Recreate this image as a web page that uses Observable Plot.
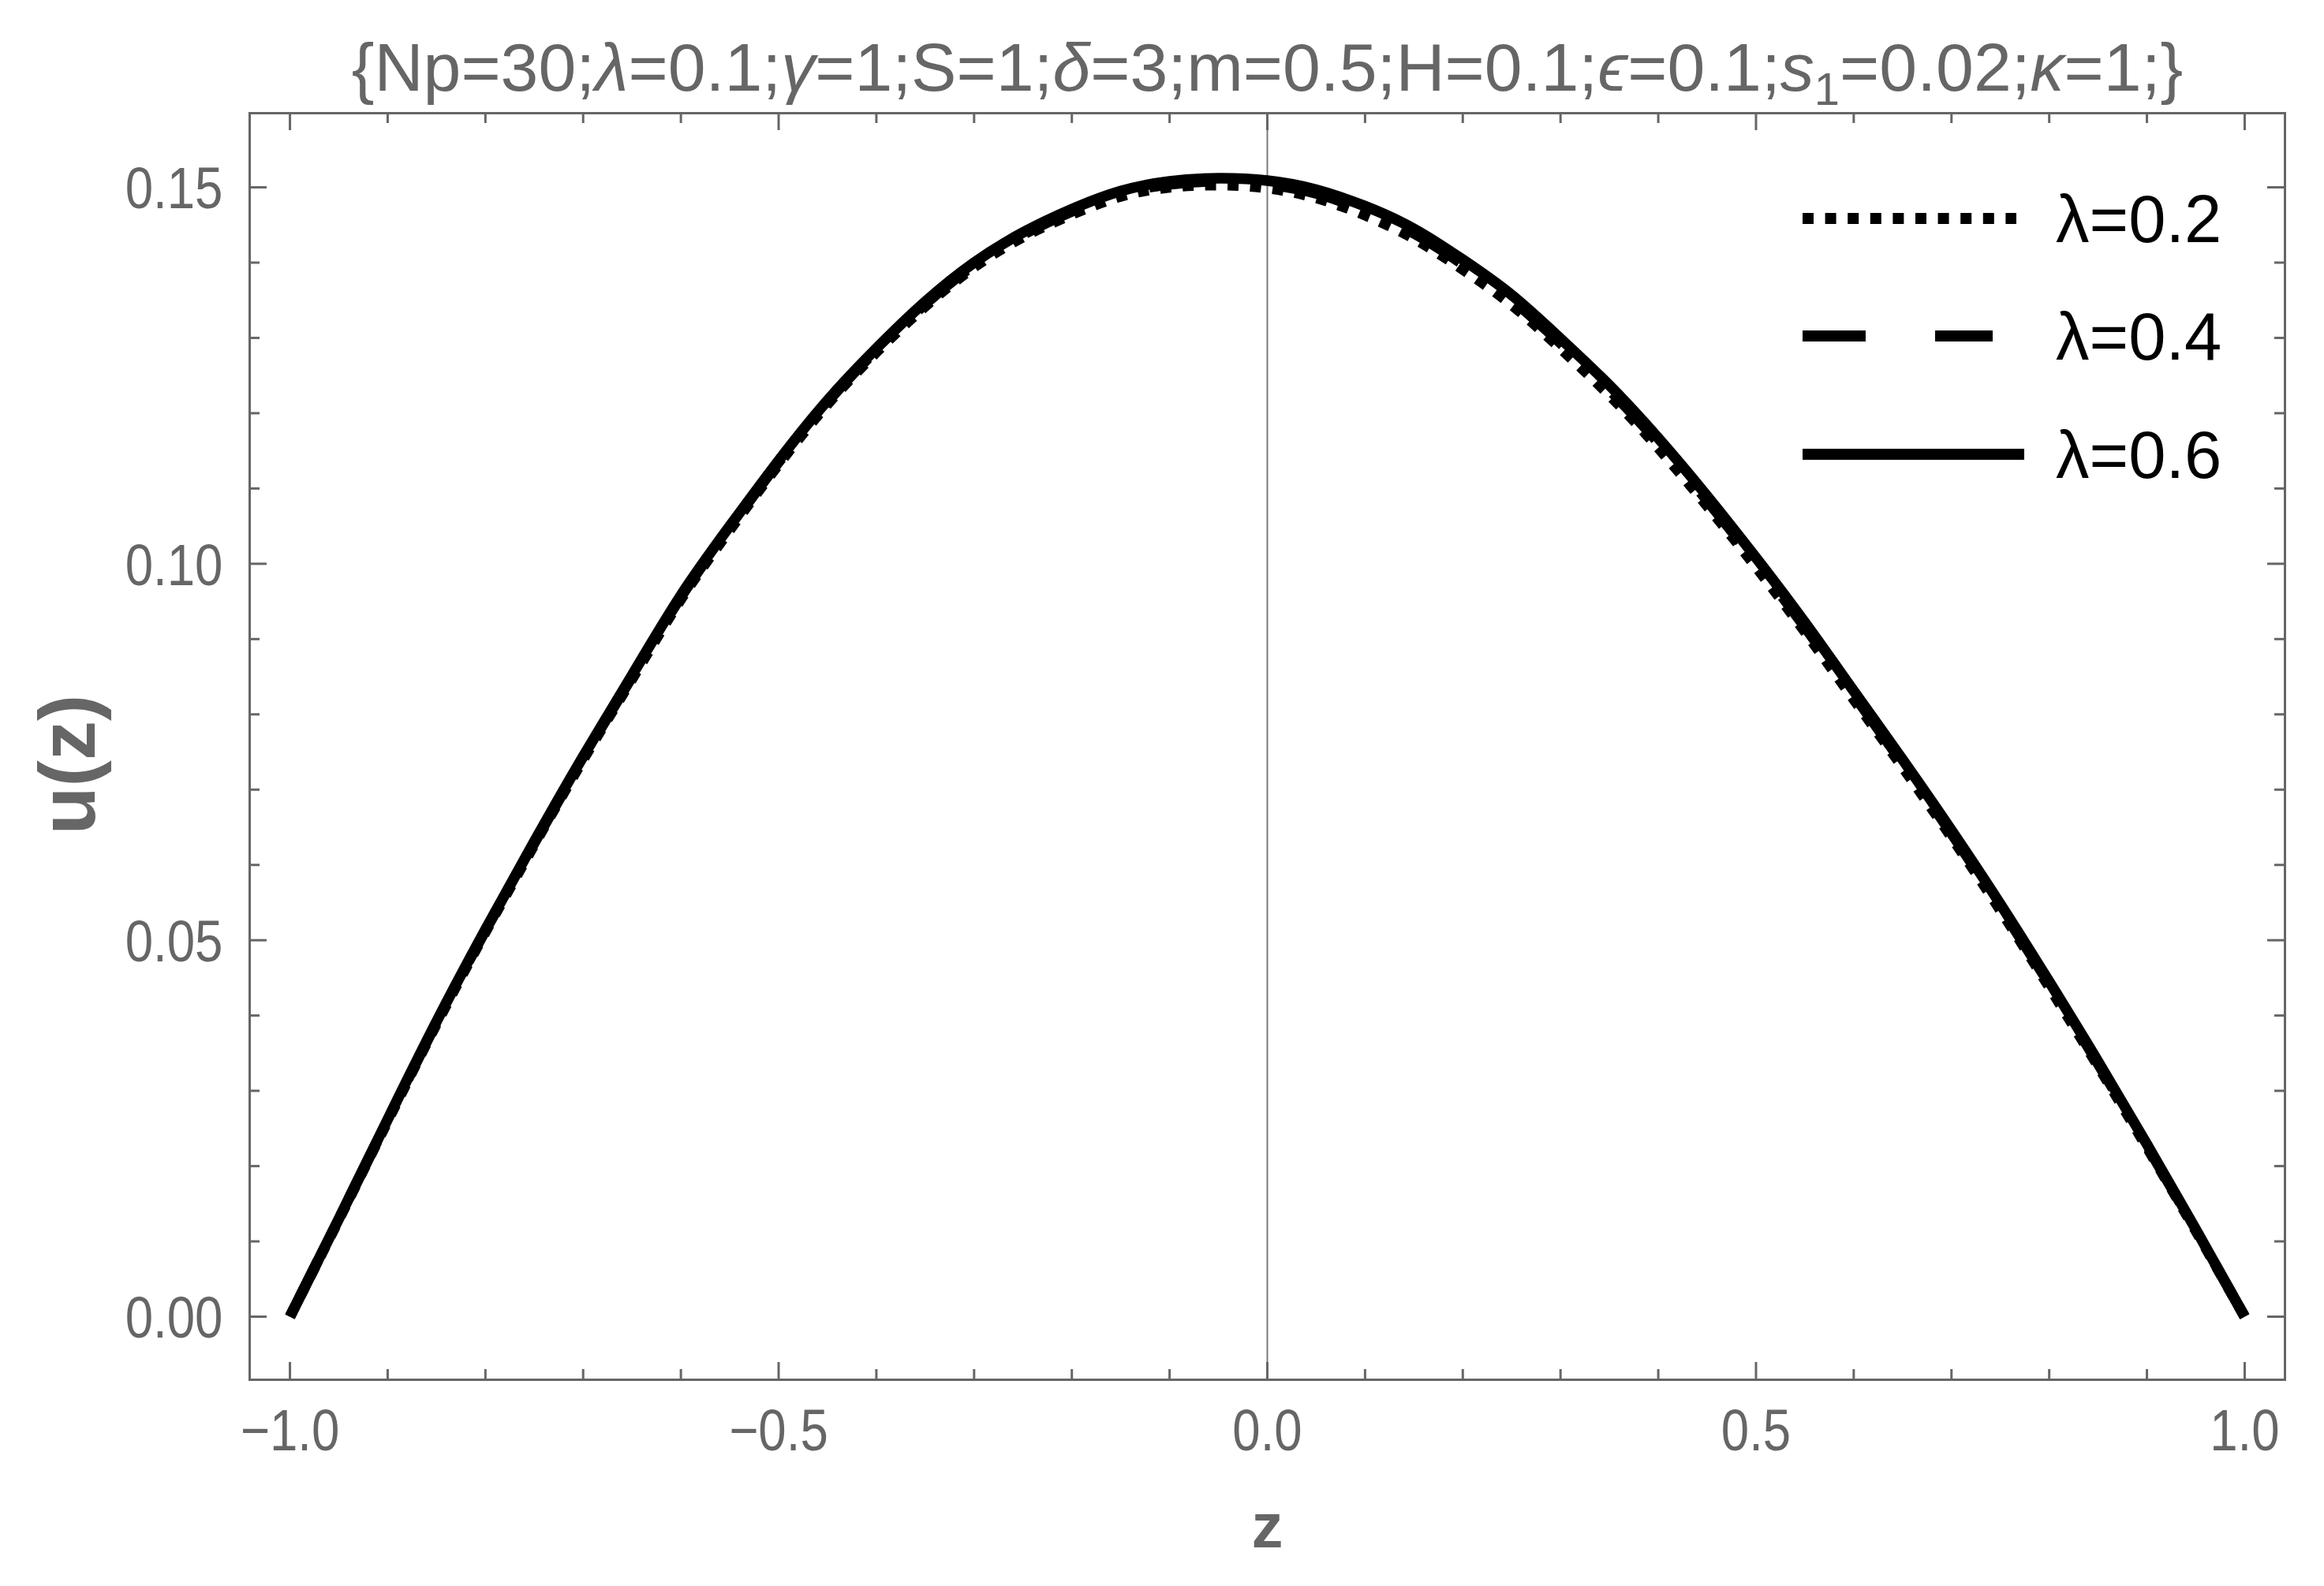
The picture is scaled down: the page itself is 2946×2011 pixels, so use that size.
<!DOCTYPE html>
<html><head><meta charset="utf-8">
<script src="https://cdn.jsdelivr.net/npm/d3@7"></script>
<script src="https://cdn.jsdelivr.net/npm/@observablehq/plot@0.6"></script>
<style>body{margin:0;background:#fff}#chart{width:2946px;height:2011px}</style>
</head><body><div id="chart"></div>
<script>
// ---- data ----
const zValues = [-1,-0.95,-0.9,-0.85,-0.8,-0.75,-0.7,-0.65,-0.6,-0.55,-0.5,-0.45,-0.4,-0.35,-0.3,-0.25,-0.2,-0.15,-0.1,-0.05,0,0.05,0.1,0.15,0.2,0.25,0.3,0.35,0.4,0.45,0.5,0.55,0.6,0.65,0.7,0.75,0.8,0.85,0.9,0.95,1];
const uLambda02 = [0,0.0129,0.0260,0.0389,0.0511,0.0627,0.0740,0.0847,0.0953,0.1045,0.1132,0.1212,0.1281,0.1342,0.1394,0.1434,0.1464,0.1488,0.1500,0.1503,0.1499,0.1486,0.1463,0.1432,0.1391,0.1344,0.1286,0.1224,0.1154,0.1077,0.0996,0.0910,0.0820,0.0730,0.0637,0.0540,0.0438,0.0333,0.0225,0.0114,0];
const uLambda04 = [0,0.0130,0.0261,0.0391,0.0513,0.0629,0.0742,0.0850,0.0956,0.1048,0.1135,0.1215,0.1284,0.1345,0.1397,0.1437,0.1468,0.1492,0.1504,0.1508,0.1504,0.1492,0.1469,0.1439,0.1398,0.1351,0.1293,0.1231,0.1161,0.1084,0.1002,0.0916,0.0826,0.0735,0.0642,0.0544,0.0442,0.0336,0.0227,0.0115,0];
const uLambda06 = [0,0.0130,0.0262,0.0392,0.0514,0.0631,0.0744,0.0852,0.0958,0.1050,0.1137,0.1217,0.1286,0.1348,0.1400,0.1440,0.1471,0.1495,0.1508,0.1512,0.1509,0.1497,0.1475,0.1445,0.1404,0.1357,0.1299,0.1237,0.1167,0.1090,0.1008,0.0922,0.0831,0.0740,0.0646,0.0548,0.0445,0.0339,0.0229,0.0116,0];
const seriesLabels = ["λ=0.2","λ=0.4","λ=0.6"];
const xMajorTicks = [-1,-0.5,0,0.5,1];
const xTickLabels = ["\u22121.0","\u22120.5","0.0","0.5","1.0"];
const xMinorTicks = [-0.9,-0.8,-0.7,-0.6,-0.4,-0.3,-0.2,-0.1,0.1,0.2,0.3,0.4,0.6,0.7,0.8,0.9];
const yMajorTicks = [0,0.05,0.1,0.15];
const yTickLabels = ["0.00","0.05","0.10","0.15"];
const yMinorTicks = [0.01,0.02,0.03,0.04,0.06,0.07,0.08,0.09,0.11,0.12,0.13,0.14];
const titleParts = [["{Np=30;",0],["λ",1],["=0.1;",0],["γ",1],["=1;S=1;",0],["δ",1],["=3;m=0.5;H=0.1;",0],["ϵ",1],["=0.1;",0],["s",1],["1",2],["=0.02;",0],["κ",1],["=1;}",0]];
const xLabel = "z";
const yLabel = "u(z)";

// ---- layout ----
const W = 2946, H = 2011, mL = 316, mR = 50, mT = 143, mB = 262;
const innerW = W - mL - mR, innerH = H - mT - mB;
const gray = "#666666";
const font = "'Liberation Sans', Arial, Helvetica, sans-serif";
const major = 22, minor = 13;

const series = [
  {label: seriesLabels[0], values: uLambda02, dash: "14,14.6"},
  {label: seriesLabels[1], values: uLambda04, dash: "80,88"},
  {label: seriesLabels[2], values: uLambda06, dash: null}
];
const rows = series.flatMap(s => zValues.map((z, i) => ({z, u: s.values[i], label: s.label})));
const titleText = titleParts.map(p => p[0]).join("");

const tickStyle = {stroke: gray, strokeWidth: 3};
const chart = Plot.plot({
  width: W, height: H,
  marginLeft: mL, marginRight: mR, marginTop: mT, marginBottom: mB,
  style: {fontFamily: font, background: "white"},
  x: {domain: [-1.0412, 1.0412], axis: null},
  y: {domain: [-0.00838, 0.15985], axis: null},
  marks: [
    Plot.ruleX([0], {x: d => d, stroke: "#7a7a7a", strokeWidth: 2}),
    ...series.map(s => Plot.line(rows.filter(r => r.label === s.label), {
      x: "z", y: "u", stroke: "black", strokeWidth: 13.5,
      strokeDasharray: s.dash || undefined, strokeLinecap: "butt", strokeLinejoin: "round",
      curve: "natural"
    })),
    Plot.frame({stroke: gray, strokeWidth: 3}),
    // bottom / top ticks
    Plot.tickX(xMajorTicks, {x: d => d, ...tickStyle, insetTop: innerH - major}),
    Plot.tickX(xMinorTicks, {x: d => d, ...tickStyle, insetTop: innerH - minor}),
    Plot.tickX(xMajorTicks, {x: d => d, ...tickStyle, insetBottom: innerH - major}),
    Plot.tickX(xMinorTicks, {x: d => d, ...tickStyle, insetBottom: innerH - minor}),
    // left / right ticks
    Plot.tickY(yMajorTicks, {y: d => d, ...tickStyle, insetRight: innerW - major}),
    Plot.tickY(yMinorTicks, {y: d => d, ...tickStyle, insetRight: innerW - minor}),
    Plot.tickY(yMajorTicks, {y: d => d, ...tickStyle, insetLeft: innerW - major}),
    Plot.tickY(yMinorTicks, {y: d => d, ...tickStyle, insetLeft: innerW - minor}),
    // tick labels
    Plot.text(xMajorTicks, {x: d => d, text: (d, i) => xTickLabels[i], frameAnchor: "bottom",
      lineAnchor: "top", dy: 37, fontSize: 74, fill: gray, ariaLabel: () => "ticklabel"}),
    Plot.text(yMajorTicks, {y: d => d, text: (d, i) => yTickLabels[i], frameAnchor: "left",
      textAnchor: "end", lineAnchor: "middle", dx: -34, dy: 3, fontSize: 74, fill: gray, ariaLabel: () => "ticklabel"}),
    // axis labels
    Plot.text([xLabel], {frameAnchor: "bottom", lineAnchor: "middle", dy: 187, fontSize: 80,
      fontWeight: "bold", fill: gray}),
    Plot.text([yLabel], {frameAnchor: "left", rotate: -90, lineAnchor: "middle", dx: -229, dy: 112,
      fontSize: 100, fontWeight: "bold", fill: gray}),
    // title
    Plot.text([titleText], {frameAnchor: "top", lineAnchor: "middle", dy: -56, fontSize: 86,
      fill: gray, ariaLabel: () => "title"})
  ]
});
document.getElementById("chart").appendChild(chart);

const svg = d3.select(chart);
// condensed tick labels
svg.selectAll('text[aria-label="ticklabel"]').each(function() {
  const t = this.getAttribute("transform");
  if (t) this.setAttribute("transform", t + " scale(0.86,1)");
  else {
    const x = this.getAttribute("x") || 0, y = this.getAttribute("y") || 0;
    this.removeAttribute("x"); this.removeAttribute("y");
    this.setAttribute("transform", `translate(${x},${y}) scale(0.86,1)`);
  }
});
// title with italic symbols and subscript
svg.selectAll('text[aria-label="title"]').each(function() {
  const el = d3.select(this);
  el.text(null);
  let shifted = false;
  for (const [s, kind] of titleParts) {
    const ts = el.append("tspan").text(s);
    if (kind === 1) ts.attr("font-style", "italic");
    if (kind === 2) { ts.attr("font-size", 58).attr("dy", 18); shifted = true; }
    else if (shifted) { ts.attr("dy", -18); shifted = false; }
  }
});
// legend (drawn in the plot's own svg)
const lg = svg.append("g").attr("aria-label", "legend").attr("text-anchor", "start");
const legendY = [277, 426, 576];
series.forEach((s, i) => {
  const x2 = s.dash === "80,88" ? 2526 : (s.dash ? 2556 : 2566);
  lg.append("line").attr("x1", 2285).attr("x2", x2).attr("y1", legendY[i]).attr("y2", legendY[i])
    .attr("stroke", "black").attr("stroke-width", 14)
    .attr("stroke-dasharray", s.dash).attr("stroke-linecap", "butt");
  lg.append("text").attr("x", 2606).attr("y", legendY[i] + 30).attr("font-size", 85)
    .attr("text-anchor", "start").attr("font-family", font).attr("fill", "black").text(s.label);
});
</script></body></html>
